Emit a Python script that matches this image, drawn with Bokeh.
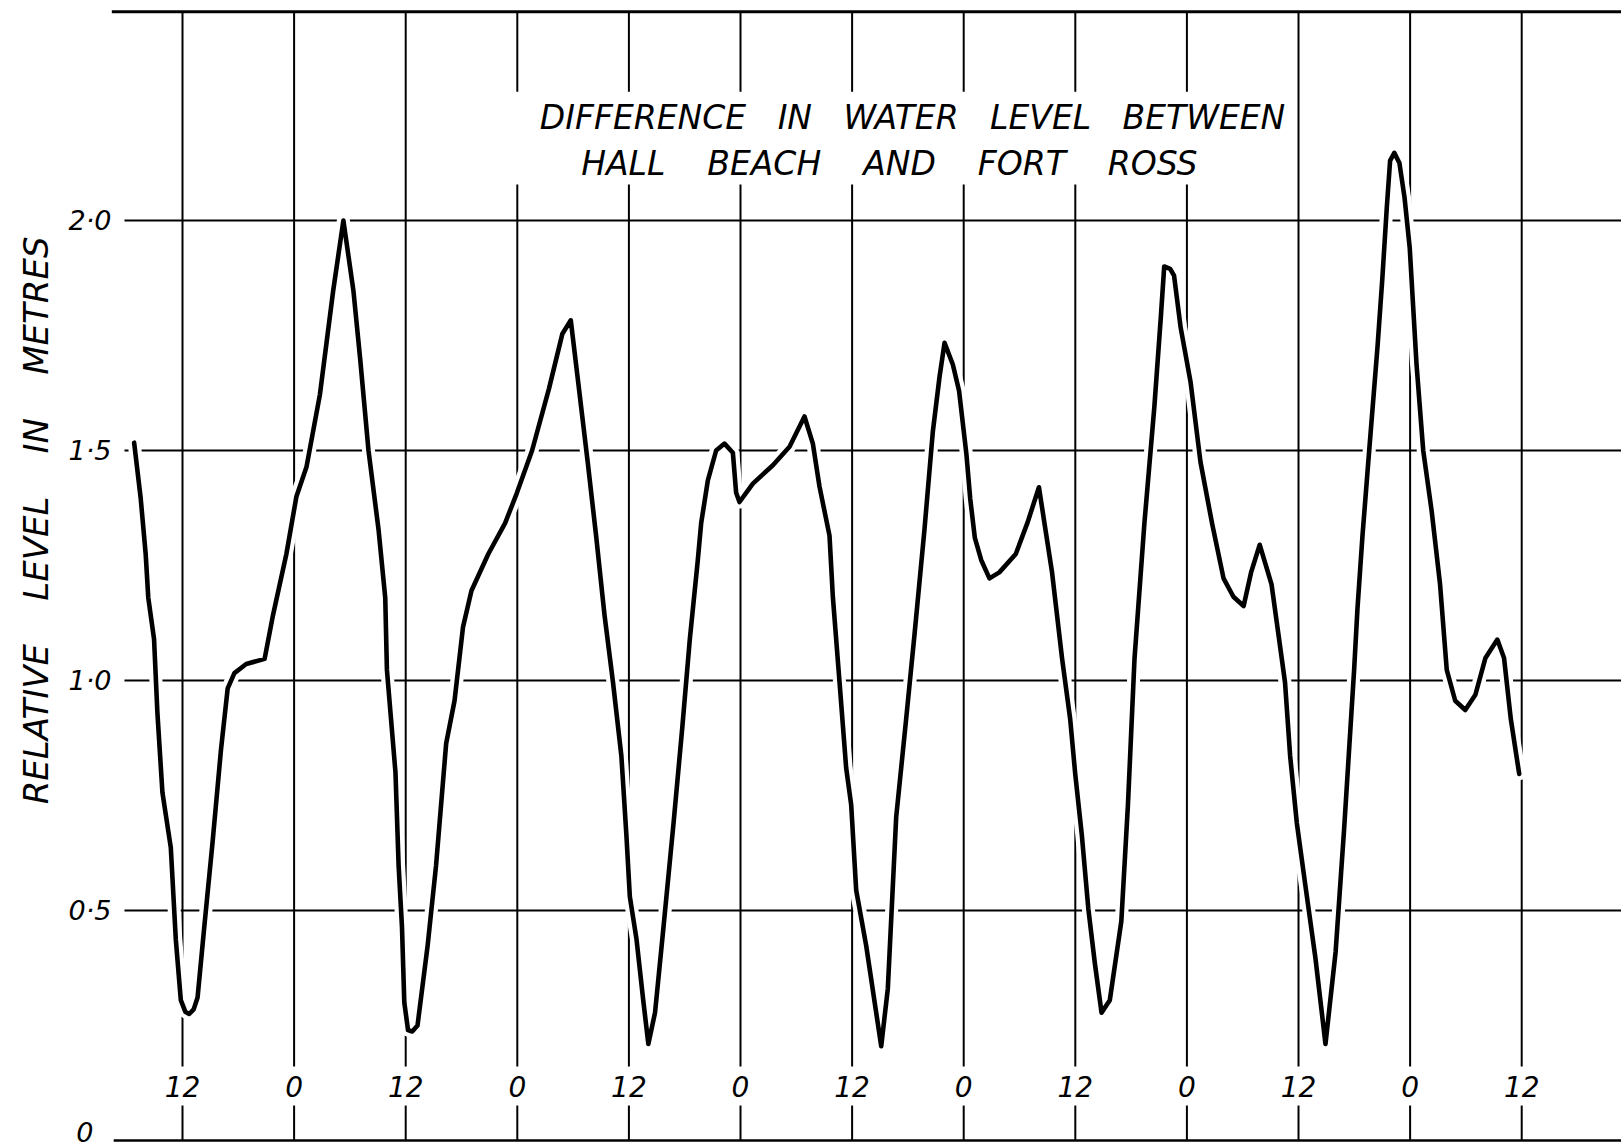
from math import pi
from bokeh.plotting import figure
from bokeh.models import Range1d, Label, ColumnDataSource
from bokeh.core.properties import value
from bokeh.embed import file_html
from bokeh.resources import INLINE

# ---- data (hours from the start of the record, level in metres)
hours = [6.8, 7.5, 8.04, 8.32, 8.94, 9.3, 9.84, 10.74, 11.28, 11.82, 12.3, 12.72, 13.2, 13.62,
         14.34, 15.24, 16.14, 16.86, 17.58, 18.85, 20.83, 21.73, 23.17, 24.25, 25.33, 26.77,
         28.2, 29.3, 30.38, 31.1, 32.0, 33.08, 33.8, 33.98, 34.9, 35.24, 35.6, 35.85, 36.25,
         36.7, 37.27, 38.36, 39.26, 40.35, 41.25, 42.16, 43.07, 44.88, 46.69, 47.96, 49.59,
         51.4, 52.85, 53.75, 54.48, 55.57, 56.47, 57.38, 58.29, 59.19, 59.73, 60.1, 60.82,
         61.54, 62.09, 62.81, 63.72, 64.8, 65.75, 66.55, 67.4, 67.77, 68.49, 69.38, 70.28,
         71.18, 71.53, 71.89, 73.33, 75.48, 77.27, 78.88, 79.78, 80.49, 81.57, 81.93, 82.65,
         83.36, 83.9, 84.44, 85.51, 86.59, 87.13, 87.84, 88.74, 89.81, 90.71, 91.78, 92.68,
         93.4, 93.94, 94.83, 95.5, 96.3, 96.7, 97.2, 97.88, 98.77, 99.83, 101.6, 102.84,
         104.09, 104.79, 105.5, 106.57, 107.45, 107.99, 108.7, 109.4, 110.11, 110.82, 111.71,
         112.95, 113.66, 114.37, 115.43, 116.5, 117.21, 117.56, 118.2, 118.62, 119.33, 120.4,
         121.46, 122.7, 123.94, 125.0, 126.1, 126.9, 127.83, 129.1, 129.83, 130.55, 131.1,
         131.82, 132.72, 133.81, 134.9, 135.99, 136.9, 137.98, 138.34, 138.88, 139.6, 140.5,
         141.0, 141.5, 141.85, 142.3, 142.85, 143.4, 143.96, 144.69, 145.41, 146.32, 147.22,
         147.94, 148.85, 149.93, 151.02, 152.1, 153.38, 154.1, 154.83, 155.73]
level = [1.517, 1.397, 1.275, 1.18, 1.09, 0.93, 0.757, 0.637, 0.437, 0.305, 0.28, 0.275, 0.285, 0.311,
         0.464, 0.65, 0.85, 0.983, 1.016, 1.036, 1.047, 1.142, 1.275, 1.40, 1.464, 1.621,
         1.847, 2.0, 1.847, 1.70, 1.50, 1.328, 1.18, 1.023, 0.80, 0.597, 0.464, 0.30, 0.24,
         0.237, 0.25, 0.424, 0.597, 0.863, 0.956, 1.116, 1.195, 1.275, 1.342, 1.408, 1.50,
         1.634, 1.754, 1.783, 1.66, 1.475, 1.315, 1.142, 0.996, 0.836, 0.664, 0.53, 0.437,
         0.305, 0.21, 0.278, 0.464, 0.69, 0.90, 1.09, 1.26, 1.342, 1.435, 1.50, 1.515,
         1.495, 1.408, 1.388, 1.428, 1.468, 1.508, 1.574, 1.515, 1.422, 1.315, 1.182, 0.996,
         0.81, 0.73, 0.544, 0.424, 0.278, 0.205, 0.33, 0.703, 0.916, 1.10, 1.328, 1.541,
         1.66, 1.734, 1.687, 1.63, 1.49, 1.395, 1.31, 1.262, 1.222, 1.235, 1.275, 1.342,
         1.42, 1.328, 1.235, 1.049, 0.916, 0.797, 0.664, 0.504, 0.384, 0.278, 0.305,
         0.477, 0.73, 1.049, 1.342, 1.595, 1.794, 1.90, 1.895, 1.88, 1.767, 1.648,
         1.475, 1.342, 1.222, 1.182, 1.162, 1.235, 1.295, 1.209, 1.102, 0.996, 0.836,
         0.69, 0.557, 0.398, 0.21, 0.41, 0.676, 1.023, 1.156, 1.315, 1.50, 1.727,
         1.87, 2.03, 2.13, 2.147, 2.125, 2.05, 1.94, 1.687, 1.50, 1.368, 1.209,
         1.023, 0.956, 0.936, 0.969, 1.049, 1.089, 1.049, 0.916, 0.797]

x_ticks = [12, 24, 36, 48, 60, 72, 84, 96, 108, 120, 132, 144, 156]
x_tick_labels = ["12", "0", "12", "0", "12", "0", "12", "0", "12", "0", "12", "0", "12"]
y_ticks = [0, 0.5, 1, 1.5, 2]
y_tick_labels = ["0", "0·5", "1·0", "1·5", "2·0"]
title_words = [["DIFFERENCE", "IN", "WATER", "LEVEL", "BETWEEN"],
               ["HALL", "BEACH", "AND", "FORT", "ROSS"]]
y_label_words = ["RELATIVE", "LEVEL", "IN", "METRES"]

FONT = "DejaVu Sans"
NB = "\u00a0"

X0, X1 = -7.570, 166.73
p = figure(width=1621, height=1148, x_range=Range1d(X0, X1), y_range=Range1d(-0.01739, 2.47826),
           output_backend="svg", toolbar_location=None, x_axis_type=None, y_axis_type=None,
           min_border=0)
p.outline_line_color = None
p.grid.visible = False
p.background_fill_color = "white"
p.border_fill_color = "white"

TOP = 2.454
GRID_LOW = 0.161
STUB_TOP = 0.076
TITLE_TOP, TITLE_BOT = 2.280, 2.078
LEFT_EDGE = 4.60      # where the drawn frame starts (hours)
GRID_START = 5.76     # where the inner rules start
YLAB_X = 4.37         # right edge of the level labels

# horizontal rules
hx0 = [GRID_START] * 4 + [LEFT_EDGE, LEFT_EDGE - 0.2]
hy = [0.5, 1.0, 1.5, 2.0, 0.0, TOP]
hw = [2, 2, 2, 2, 2.5, 3]
p.segment(x0=hx0, y0=hy, x1=[X1] * len(hy), y1=hy, line_color="black", line_width=hw)

# vertical rules (broken for the title and the hour labels)
vx, vy0, vy1 = [], [], []
for h in x_ticks:
    if 48 <= h <= 120:
        vx += [h, h]; vy0 += [TOP, TITLE_BOT]; vy1 += [TITLE_TOP, GRID_LOW]
    else:
        vx += [h]; vy0 += [TOP]; vy1 += [GRID_LOW]
    vx += [h]; vy0 += [0.0]; vy1 += [STUB_TOP]
p.segment(x0=vx, y0=vy0, x1=vx, y1=vy1, line_color="black", line_width=2)

# hour labels
p.text(x=x_ticks, y=[0.117] * len(x_ticks), text=x_tick_labels, text_font=value(FONT),
       text_font_style="italic", text_font_size="28px", text_align="center",
       text_baseline="middle", text_color="black")

# level labels (the "0" sits a little left of and above its rule, as drawn)
ylab_src = ColumnDataSource(dict(x=[YLAB_X] * len(y_ticks), y=y_ticks, text=y_tick_labels,
                                 dx=[-18, 0, 0, 0, 0], dy=[-9, 0, 0, 0, 0]))
p.text(x="x", y="y", text="text", x_offset="dx", y_offset="dy", source=ylab_src,
       text_font=value(FONT), text_font_style="italic", text_font_size="27px",
       text_align="right", text_baseline="middle", text_color="black")

# axis title
p.text(x=[-3.70], y=[1.348], text=[(" " + NB * 2 + " ").join(y_label_words)], angle=pi / 2,
       text_font=value(FONT), text_font_style="italic", text_font_size="34px",
       text_align="center", text_baseline="middle", text_color="black")

# curve with a white casing (drafting breaks in the rules)
p.line(hours, level, line_color="white", line_width=13, line_join="round", line_cap="round")
p.line(hours, level, line_color="black", line_width=4.6, line_join="round", line_cap="round")

gaps = [" " + NB + " ", " " + NB * 2 + " "]
for words, gap, hx, vy in zip(title_words, gaps, [90.5, 88.0], [2.224, 2.124]):
    p.add_layout(Label(x=hx, y=vy, text=gap.join(words), text_align="center",
                       text_baseline="middle", text_font=FONT, text_font_style="italic",
                       text_font_size="33px", text_color="black"))

open("out.html", "w").write(file_html(p, INLINE))
